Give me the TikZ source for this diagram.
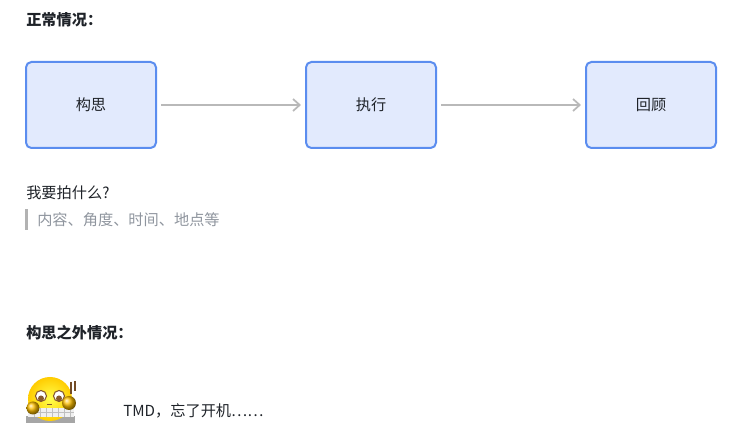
\documentclass[tikz,border=0pt]{standalone}
\usepackage{fontspec}
\setmainfont{Noto Sans CJK SC}
\usetikzlibrary{arrows.meta}
\definecolor{bfill}{HTML}{E2EAFD}
\definecolor{bdraw}{HTML}{5B8DEF}
\definecolor{txt}{HTML}{1F2329}
\definecolor{gr}{HTML}{8F959E}
\begin{document}
\begin{tikzpicture}[x=0.75pt,y=-0.75pt,
 box/.style={draw=bdraw,fill=bfill,line width=1.5pt,rounded corners=4pt,minimum width=130*0.75pt,minimum height=86*0.75pt,font=\fontsize{11.4}{13}\selectfont,text=txt},
 arr/.style={draw=gray!55,line width=1.3pt,shorten <=3pt,shorten >=3pt,-{Straight Barb[length=5pt,width=9pt]}},
 lbl/.style={anchor=west,font=\fontsize{11.4}{13}\selectfont,text=txt,inner sep=0pt}]
\useasboundingbox (0,0) rectangle (751,441);
\node[lbl,font=\fontsize{11.4}{13}\selectfont\bfseries] (t1) at (26,20) {正常情况：};
\node[box] (a) at (91,105) {构思};
\node[box] (b) at (371,105) {执行};
\node[box] (c) at (651,105) {回顾};
\draw[arr] (a) -- (b);
\draw[arr] (b) -- (c);
\node[lbl] (q) at (26,193) {我要拍什么?};
\fill[gray!60] (25,209) rectangle (27.5,230);
\node[lbl,text=gr] (q2) at (37,220) {内容、角度、时间、地点等};
\node[lbl,font=\fontsize{11.4}{13}\selectfont\bfseries] (t2) at (26,333) {构思之外情况：};
% emoji
\fill[gray!70] (26,416) rectangle (75,423);
\shade[inner color=yellow!70!white,outer color=yellow!60!orange] (50,399) circle (22);
\fill[gray!12] (28,408) rectangle (74,417);
\draw[gray!50,line width=0.4pt] (28,412.5)--(74,412.5);
\foreach \x in {34,40,46,52,58,64,70} \draw[gray!50,line width=0.4pt] (\x,408)--(\x,417);
\fill[white] (41,396) circle (5.5); \fill[white] (59,396) circle (5.5);
\draw[brown!70!black,line width=0.8pt] (41,396) circle (5.5) (59,396) circle (5.5);
\fill[brown!70!black] (41,398.5) circle (3); \fill[brown!70!black] (59,398.5) circle (3);
\draw[brown!70!black,line width=0.6pt] (47,404)--(52,404);
\draw[brown!60!black,line width=0.8pt] (71,382)--(71,394) (75,381)--(75,391);
\shade[ball color=orange!50!yellow] (33,408) circle (6.5);
\shade[ball color=orange!50!yellow] (69,403) circle (7);
\node[lbl] (m) at (123,411) {TMD，忘了开机⋯⋯};
\end{tikzpicture}
\end{document}
